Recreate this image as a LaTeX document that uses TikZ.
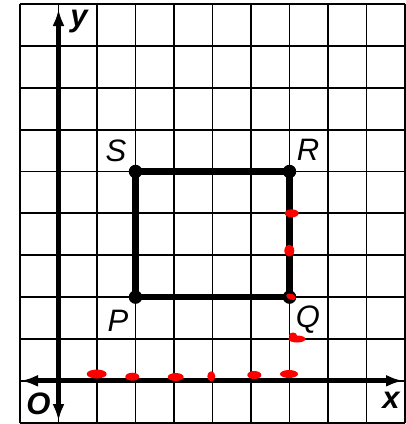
\documentclass[tikz,border=0pt]{standalone}
\usepackage{fontspec}
\setmainfont{Liberation Sans}
\usetikzlibrary{arrows.meta}
\begin{document}
\begin{tikzpicture}[x=1pt,y=-1pt,
  gridline/.style={line width=1.8pt, black},
  axis/.style={line width=4.8pt, {Latex[length=17pt,width=12pt]}-{Latex[length=17pt,width=12pt]}},
  side/.style={line width=6.5pt},
  corner/.style={circle, fill, inner sep=0pt, minimum size=13.5pt},
  ptlabel/.style={font=\itshape\fontsize{31}{31}\selectfont, inner sep=0pt},
  axlabel/.style={font=\bfseries\itshape\fontsize{31}{31}\selectfont, inner sep=0pt},
  redmark/.style={fill=red, draw=none}]
\useasboundingbox (0,0) rectangle (406,424);
% grid
\foreach \i in {0,...,10} \draw[gridline] (20+38.5*\i, 4) -- (20+38.5*\i, 422.7);
\foreach \j in {0,...,10} \draw[gridline] (20, 4+41.87*\j) -- (405, 4+41.87*\j);
% axes
\coordinate (ytop) at (58.5,9);
\coordinate (ybot) at (58.5,421);
\coordinate (xl) at (21,380.8);
\coordinate (xr) at (403,380.8);
\draw[axis] (ybot) -- (ytop);
\draw[axis] (xl) -- (xr);
% rectangle
\node[corner] (P) at (135.5,297.1) {};
\node[corner] (Q) at (289.5,297.1) {};
\node[corner] (R) at (289.5,171.5) {};
\node[corner] (S) at (135.5,171.5) {};
\draw[side] (P.center) -- (Q.center) -- (R.center) -- (S.center) -- cycle;
% labels
\node[ptlabel] (Sl) at (116,151) {S};
\node[ptlabel] (Rl) at (308,150) {R};
\node[ptlabel] (Pl) at (118,321) {P};
\node[ptlabel] (Ql) at (308,320) {Q};
\node[axlabel] (yl) at (79,22) {y};
\node[axlabel] (xlab) at (391,400) {x};
\node[axlabel] (Ol) at (38.5,404) {O};
% red marks
\fill[redmark] (96.7,374) ellipse (10pt and 4.5pt);
\fill[redmark] (132.3,376.7) ellipse (7pt and 4pt);
\fill[redmark] (175.7,377) ellipse (8pt and 4pt);
\fill[redmark] (211.3,376.3) ellipse (4pt and 5pt);
\fill[redmark] (254.3,375) ellipse (7pt and 4pt);
\fill[redmark] (289,374) ellipse (9pt and 4pt);
\fill[redmark] (291.7,213.3) ellipse (7pt and 4pt);
\fill[redmark] (289.3,250.7) ellipse (5pt and 6pt);
\fill[redmark, rotate around={-20:(291,296.7)}] (291,296.7) ellipse (5pt and 3pt);
\fill[redmark] (297,339) ellipse (8.5pt and 3.5pt);
\fill[redmark] (293,335.5) ellipse (4pt and 3pt);
\end{tikzpicture}
\end{document}
